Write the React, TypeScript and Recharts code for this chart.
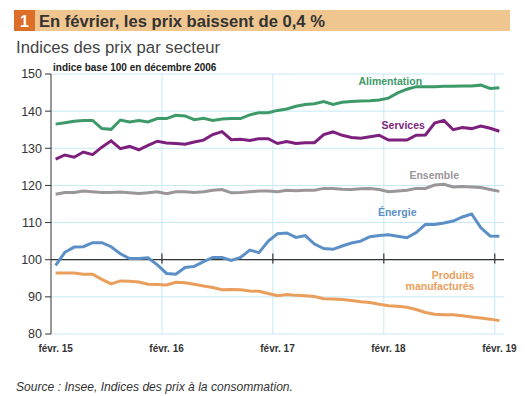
import React from "react";
import {
  LineChart,
  Line,
  XAxis,
  YAxis,
  CartesianGrid,
  ReferenceLine,
  ReferenceDot,
} from "recharts";

const FONT = "'Liberation Sans', Arial, sans-serif";

// Monthly values, févr. 2015 -> févr. 2019 (49 months)
const alimentation = [
  136.5, 136.9, 137.3, 137.5, 137.5, 135.3, 135.1, 137.6, 137.1, 137.5, 137.1, 138.0,
  138.0, 138.9, 138.7, 137.7, 138.1, 137.5, 137.9, 138.0, 138.0, 139.0, 139.6, 139.6,
  140.2, 140.6, 141.3, 141.8, 142.0, 142.6, 141.8, 142.4, 142.6, 142.7, 142.8, 143.0,
  143.5, 144.9, 145.9, 146.6, 146.6, 146.6, 146.7, 146.7, 146.8, 146.8, 147.0, 146.1,
  146.3,
];
const services = [
  127.1, 128.2, 127.6, 129.0, 128.3, 130.3, 132.0, 129.9, 130.5, 129.6, 130.8, 131.9,
  131.4, 131.3, 131.1, 131.7, 132.2, 133.7, 134.5, 132.3, 132.4, 132.1, 132.6, 132.6,
  131.3, 131.8, 131.3, 131.5, 131.5, 133.7, 134.4, 133.5, 132.9, 132.7, 133.1, 133.5,
  132.2, 132.2, 132.2, 133.5, 133.6, 136.8, 137.5, 135.0, 135.6, 135.3, 136.0, 135.4,
  134.6,
];
const ensemble = [
  117.6, 118.1, 118.1, 118.5, 118.3, 118.1, 118.1, 118.2, 118.0, 117.8, 118.0, 118.3,
  117.8, 118.3, 118.3, 118.1, 118.3, 118.7, 118.9, 118.0, 118.1, 118.3, 118.5, 118.5,
  118.3, 118.7, 118.55, 118.7, 118.7, 119.2, 119.2, 119.0, 118.9, 119.1, 119.2, 118.9,
  118.3, 118.5, 118.7, 119.2, 119.2, 120.1, 120.3, 119.6, 119.7, 119.6, 119.45, 118.9,
  118.4,
];
const energie = [
  98.5, 102.0, 103.4, 103.5, 104.6, 104.6, 103.5, 101.6, 100.3, 100.3, 100.5, 98.6,
  96.3, 96.1, 97.9, 98.2, 99.5, 100.6, 100.6, 99.8, 100.6, 102.6, 101.9, 105.0,
  107.0, 107.2, 106.0, 106.5, 104.2, 103.0, 102.8, 103.7, 104.5, 105.0, 106.2, 106.5,
  106.7, 106.3, 105.9, 107.3, 109.5, 109.5, 109.9, 110.4, 111.5, 112.3, 108.6, 106.4,
  106.3,
];
const manufactures = [
  96.4, 96.4, 96.4, 96.1, 96.1, 94.7, 93.5, 94.3, 94.2, 94.0, 93.4, 93.3,
  93.2, 93.9, 93.8, 93.4, 92.9, 92.5, 91.9, 92.0, 91.9, 91.6, 91.5, 90.9,
  90.3, 90.6, 90.4, 90.3, 90.1, 89.5, 89.4, 89.3, 89.0, 88.7, 88.5, 88.0,
  87.6, 87.5, 87.2, 86.6, 85.8, 85.3, 85.2, 85.2, 84.9, 84.6, 84.3, 84.0,
  83.6,
];

const yearLabels = ["févr. 15", "févr. 16", "févr. 17", "févr. 18", "févr. 19"];
const yearStarts = [0, 12, 24, 36, 48]; // month index of each February
const yTicks = [80, 90, 100, 110, 120, 130, 140, 150];

const C = {
  alim: "#3D9A68",
  serv: "#7C1F7D",
  ens: "#9A9597",
  ener: "#5B8FC6",
  manu: "#EA9E5C",
  grid: "#C6E8F4",
  axis: "#333333",
};

const data = alimentation.map((v, i) => ({
  x: i + 0.5,
  alimentation: v,
  services: services[i],
  ensemble: ensemble[i],
  energie: energie[i],
  manufactures: manufactures[i],
}));

const labelShape =
  (text: string, color: string, anchor: "middle" | "end") => (p: any) =>
    (
      <text
        x={p.cx}
        y={p.cy}
        fill={color}
        fontFamily={FONT}
        fontWeight="bold"
        fontSize={10.5}
        textAnchor={anchor}
      >
        {text}
      </text>
    );

export default function App() {
  return (
    <div style={{ position: "absolute", left: 0, top: 0, width: 530, height: 396, background: "#fff" }}>
      <svg width={530} height={396} style={{ position: "absolute", left: 0, top: 0 }}>
        <rect x={14} y={10} width={496} height={21} fill="#EFC690" />
        <rect x={14} y={10} width={21} height={21} fill="#DC6E28" />
        <text x={24.5} y={26.5} fill="#fff" fontFamily={FONT} fontWeight="bold" fontSize={16} textAnchor="middle">
          1
        </text>
        <text x={39} y={26.5} fill="#333" fontFamily={FONT} fontWeight="bold" fontSize={16.6}>
          En février, les prix baissent de 0,4 %
        </text>
        <text x={16} y={52.5} fill="#444" fontFamily={FONT} fontSize={16.7}>
          Indices des prix par secteur
        </text>
        <text x={53} y={71} fill="#222" fontFamily={FONT} fontWeight="bold" fontSize={10}>
          indice base 100 en décembre 2006
        </text>
        <text x={16} y={391} fill="#333" fontFamily={FONT} fontStyle="italic" fontSize={12.1}>
          Source : Insee, Indices des prix à la consommation.
        </text>
      </svg>
      <div style={{ position: "absolute", left: 0, top: 0 }}>
        <LineChart
          width={530}
          height={396}
          data={data}
          margin={{ top: 74, right: 26, bottom: 32, left: 0 }}
        >
          <CartesianGrid vertical={false} stroke={C.grid} strokeWidth={1} />
          {yearStarts.slice(1).map((m) => (
            <ReferenceLine key={"g" + m} x={m} stroke={C.grid} strokeWidth={1} />
          ))}
          <XAxis
            type="number"
            dataKey="x"
            domain={[0, 49]}
            ticks={yearStarts.map((m) => m + 0.5)}
            tickFormatter={(v: number) => yearLabels[yearStarts.indexOf(v - 0.5)]}
            axisLine={false}
            tickLine={false}
            tickMargin={5}
            height={30}
            tick={{ fontSize: 10, fontWeight: "bold", fill: "#333", fontFamily: FONT }}
            interval={0}
          />
          <YAxis
            domain={[80, 150]}
            ticks={yTicks}
            width={51}
            interval={0}
            axisLine={{ stroke: C.axis, strokeWidth: 1 }}
            tickLine={{ stroke: C.axis, strokeWidth: 1 }}
            tickSize={6}
            tickMargin={3}
            tick={{ fontSize: 12.5, fill: "#333", fontFamily: FONT }}
          />
          <ReferenceLine y={100} stroke={C.axis} strokeWidth={1.2} />
          {yearStarts.slice(1).map((m) => (
            <ReferenceLine
              key={"t" + m}
              segment={[
                { x: m, y: 99.0 },
                { x: m, y: 101.7 },
              ]}
              stroke={C.axis}
              strokeWidth={1.2}
            />
          ))}
          <Line type="linear" dataKey="manufactures" stroke={C.manu} strokeWidth={3} dot={false} isAnimationActive={false} />
          <Line type="linear" dataKey="energie" stroke={C.ener} strokeWidth={3} dot={false} isAnimationActive={false} />
          <Line type="linear" dataKey="ensemble" stroke={C.ens} strokeWidth={3} dot={false} isAnimationActive={false} />
          <Line type="linear" dataKey="services" stroke={C.serv} strokeWidth={3} dot={false} isAnimationActive={false} />
          <Line type="linear" dataKey="alimentation" stroke={C.alim} strokeWidth={3} dot={false} isAnimationActive={false} />
          <ReferenceDot x={36.7} y={147.0} r={0} shape={labelShape("Alimentation", C.alim, "middle")} />
          <ReferenceDot x={38.1} y={135.2} r={0} shape={labelShape("Services", C.serv, "middle")} />
          <ReferenceDot x={41.45} y={121.7} r={0} shape={labelShape("Ensemble", C.ens, "middle")} />
          <ReferenceDot x={37.45} y={111.9} r={0} shape={labelShape("Énergie", C.ener, "middle")} />
          <ReferenceDot x={45.8} y={94.9} r={0} shape={labelShape("Produits", C.manu, "end")} />
          <ReferenceDot x={45.8} y={91.8} r={0} shape={labelShape("manufacturés", C.manu, "end")} />
        </LineChart>
      </div>
    </div>
  );
}
